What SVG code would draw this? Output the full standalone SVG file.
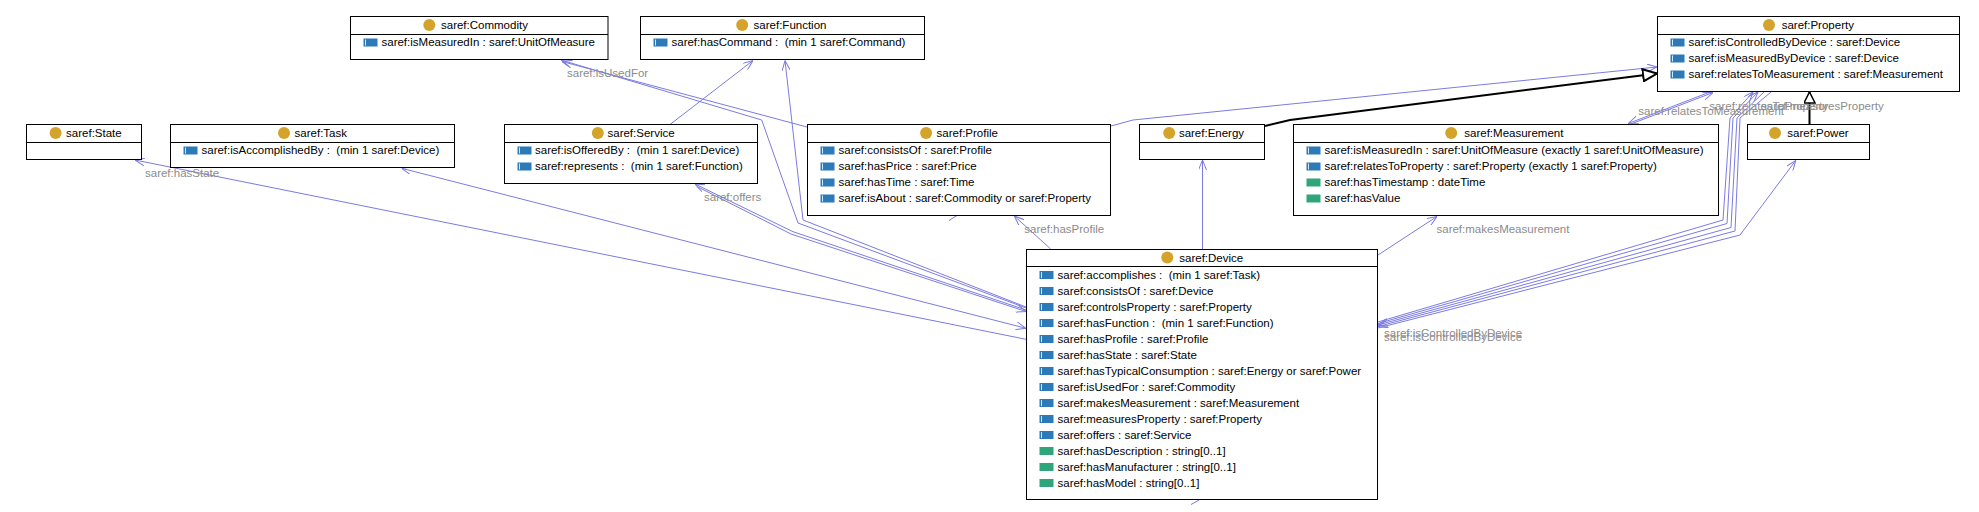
<svg xmlns="http://www.w3.org/2000/svg" xmlns:xlink="http://www.w3.org/1999/xlink" width="1979" height="512" viewBox="0 0 1979 512">
<style>
.box{fill:#fff;stroke:#000;stroke-width:1}
.t{font-family:"Liberation Sans",Arial,sans-serif;font-size:11.5px;fill:#000;white-space:pre}
.lbl{font-family:"Liberation Sans",Arial,sans-serif;font-size:11.5px;fill:#8c8c8c;white-space:pre}
.ic{fill:#d4a32a}
.c{fill:none;stroke:#7b7be3;stroke-width:1}
.g{fill:none;stroke:#000;stroke-width:2}
</style>
<defs>
<marker id="arr" viewBox="0 0 10 8" refX="10" refY="4" markerWidth="10" markerHeight="8" markerUnits="userSpaceOnUse" orient="auto-start-reverse"><path d="M0,0 L10,4 L0,8" fill="none" stroke="#7b7be3" stroke-width="1"/></marker>
<marker id="gen" viewBox="0 0 16 14" refX="15" refY="7" markerWidth="16" markerHeight="14" markerUnits="userSpaceOnUse" orient="auto"><path d="M1,1 L15,7 L1,13 Z" fill="#fff" stroke="#000" stroke-width="2"/></marker>
<marker id="gen2" viewBox="0 0 13 12" refX="12" refY="6" markerWidth="13" markerHeight="12" markerUnits="userSpaceOnUse" orient="auto"><path d="M1,0.5 L12,6 L1,11.5 Z" fill="#fff" stroke="#000" stroke-width="1.5"/></marker>
<g id="op"><rect width="14" height="8" fill="#2d7ab8"/><rect x="1.5" y="1" width="1" height="6" fill="#d8e8f4"/></g>
<g id="dp"><rect width="14" height="8" fill="#2ea67a"/></g>
</defs>
<rect width="1979" height="512" fill="#fff"/>

<g id="connectors">
<path class="c" d="M1026,339.3 L135,160" marker-end="url(#arr)"/>
<path class="c" d="M1026,328.3 L401.7,168.3" marker-start="url(#arr)" marker-end="url(#arr)"/>
<path class="c" d="M1026,308 L798,223 L761.7,120 L561,60" marker-end="url(#arr)"/>
<path class="c" d="M1026,307 L803,220 L785,60.5" marker-end="url(#arr)"/>
<path class="c" d="M1026,310 L793,231.7 L695,184" marker-end="url(#arr)"/>
<path class="c" d="M697,186.5 L791,234 L1026,311.5" marker-end="url(#arr)"/>
<path class="c" d="M670,124.5 L753,60.5" marker-end="url(#arr)"/>
<path class="c" d="M807,127 L562,61.5" marker-end="url(#arr)"/>
<path class="c" d="M1111,126 L1133,120 L1657,67" marker-end="url(#arr)"/>
<path class="c" d="M1050.7,249 L1014.3,216" marker-end="url(#arr)"/>
<path class="c" d="M1202.5,249 L1202.5,160" marker-end="url(#arr)"/>
<path class="c" d="M1378,255 L1437,216.5" marker-end="url(#arr)"/>
<path class="c" d="M1710,92 L1628.3,123.5" marker-end="url(#arr)"/>
<path class="c" d="M1631,124 L1713,92.5" marker-end="url(#arr)"/>
<path class="c" d="M1378,322 L1723,220 L1730,118 L1753,92" marker-end="url(#arr)"/>
<path class="c" d="M1378,323.5 L1727,223.5 L1733,118 L1758,92" marker-end="url(#arr)"/>
<path class="c" d="M1764,92 L1737,118 L1731,227.5 L1378,325" marker-end="url(#arr)"/>
<path class="c" d="M1771,92 L1740,118 L1735,231 L1378,326.5" marker-end="url(#arr)"/>
<path class="c" d="M1378,328 L1740,235 L1795.7,160.5" marker-end="url(#arr)"/>
<polyline class="c" points="949,212.5 957,215.5 949,220.5"/>
<polyline class="c" points="1191,495.5 1199,500 1191,504.5"/>
<path class="g" d="M1265,126 L1290,120 L1657,73.5" marker-end="url(#gen)"/>
<path class="g" d="M1809.5,124.5 L1809.5,92" marker-end="url(#gen2)"/>
<text class="lbl" x="567" y="77">saref:isUsedFor</text>
<text class="lbl" x="145" y="177">saref:hasState</text>
<text class="lbl" x="704" y="201">saref:offers</text>
<text class="lbl" x="1024.3" y="233">saref:hasProfile</text>
<text class="lbl" x="1436.5" y="233">saref:makesMeasurement</text>
<text class="lbl" x="1638.3" y="115">saref:relatesToMeasurement</text>
<text class="lbl" x="1709.3" y="109.5">saref:relatesToProperty</text>
<text class="lbl" x="1761" y="109.5">saref:measuresProperty</text>
<text class="lbl" x="1384" y="337">saref:isControlledByDevice</text>
<text class="lbl" x="1384" y="341">saref:isControlledByDevice</text>
</g>

<g id="commodity">
<rect class="box" x="350.5" y="16.5" width="257.5" height="43"/>
<line class="box" x1="350.5" y1="34.5" x2="608" y2="34.5"/>
<circle class="ic" cx="429.3" cy="25" r="6"/>
<text class="t" x="441" y="28.5">saref:Commodity</text>
<use xlink:href="#op" x="363.5" y="38.5"/>
<text class="t" x="381.5" y="46">saref:isMeasuredIn : saref:UnitOfMeasure</text>
</g>

<g id="function">
<rect class="box" x="640.5" y="16.5" width="284" height="43"/>
<line class="box" x1="640.5" y1="34.5" x2="924.5" y2="34.5"/>
<circle class="ic" cx="742.2" cy="25" r="6"/>
<text class="t" x="753.6" y="28.5">saref:Function</text>
<use xlink:href="#op" x="653.5" y="38.5"/>
<text class="t" x="671.5" y="46">saref:hasCommand :  (min 1 saref:Command)</text>
</g>

<g id="property">
<rect class="box" x="1657.5" y="16.5" width="302" height="75"/>
<line class="box" x1="1657.5" y1="34.5" x2="1959.5" y2="34.5"/>
<circle class="ic" cx="1769" cy="25" r="6"/>
<text class="t" x="1781.7" y="28.5">saref:Property</text>
<use xlink:href="#op" x="1670.5" y="38.5"/>
<text class="t" x="1688.5" y="46">saref:isControlledByDevice : saref:Device</text>
<use xlink:href="#op" x="1670.5" y="54.5"/>
<text class="t" x="1688.5" y="62">saref:isMeasuredByDevice : saref:Device</text>
<use xlink:href="#op" x="1670.5" y="70.5"/>
<text class="t" x="1688.5" y="78">saref:relatesToMeasurement : saref:Measurement</text>
</g>

<g id="state">
<rect class="box" x="26.5" y="124.5" width="115" height="35"/>
<line class="box" x1="26.5" y1="142.5" x2="141.5" y2="142.5"/>
<circle class="ic" cx="55.6" cy="133" r="6"/>
<text class="t" x="66.1" y="136.5">saref:State</text>
</g>

<g id="task">
<rect class="box" x="170.5" y="124.5" width="284" height="43"/>
<line class="box" x1="170.5" y1="142.5" x2="454.5" y2="142.5"/>
<circle class="ic" cx="284" cy="133" r="6"/>
<text class="t" x="294.6" y="136.5">saref:Task</text>
<use xlink:href="#op" x="183.5" y="146.5"/>
<text class="t" x="201.5" y="154">saref:isAccomplishedBy :  (min 1 saref:Device)</text>
</g>

<g id="service">
<rect class="box" x="504.5" y="124.5" width="253" height="59"/>
<line class="box" x1="504.5" y1="142.5" x2="757.5" y2="142.5"/>
<circle class="ic" cx="597.8" cy="133" r="6"/>
<text class="t" x="607.5" y="136.5">saref:Service</text>
<use xlink:href="#op" x="517.5" y="146.5"/>
<text class="t" x="535" y="154">saref:isOfferedBy :  (min 1 saref:Device)</text>
<use xlink:href="#op" x="517.5" y="162.5"/>
<text class="t" x="535" y="170">saref:represents :  (min 1 saref:Function)</text>
</g>

<g id="profile">
<rect class="box" x="807.5" y="124.5" width="303" height="91"/>
<line class="box" x1="807.5" y1="142.5" x2="1110.5" y2="142.5"/>
<circle class="ic" cx="926.1" cy="133" r="6"/>
<text class="t" x="936.6" y="136.5">saref:Profile</text>
<use xlink:href="#op" x="820.5" y="146.5"/>
<text class="t" x="838.5" y="154">saref:consistsOf : saref:Profile</text>
<use xlink:href="#op" x="820.5" y="162.5"/>
<text class="t" x="838.5" y="170">saref:hasPrice : saref:Price</text>
<use xlink:href="#op" x="820.5" y="178.5"/>
<text class="t" x="838.5" y="186">saref:hasTime : saref:Time</text>
<use xlink:href="#op" x="820.5" y="194.5"/>
<text class="t" x="838.5" y="202">saref:isAbout : saref:Commodity or saref:Property</text>
</g>

<g id="energy">
<rect class="box" x="1139.5" y="124.5" width="125" height="35"/>
<line class="box" x1="1139.5" y1="142.5" x2="1264.5" y2="142.5"/>
<circle class="ic" cx="1169.2" cy="133" r="6"/>
<text class="t" x="1178.9" y="136.5">saref:Energy</text>
</g>

<g id="measurement">
<rect class="box" x="1293.5" y="124.5" width="425" height="91"/>
<line class="box" x1="1293.5" y1="142.5" x2="1718.5" y2="142.5"/>
<circle class="ic" cx="1451.2" cy="133" r="6"/>
<text class="t" x="1464.3" y="136.5">saref:Measurement</text>
<use xlink:href="#op" x="1306.5" y="146.5"/>
<text class="t" x="1324.5" y="154">saref:isMeasuredIn : saref:UnitOfMeasure (exactly 1 saref:UnitOfMeasure)</text>
<use xlink:href="#op" x="1306.5" y="162.5"/>
<text class="t" x="1324.5" y="170">saref:relatesToProperty : saref:Property (exactly 1 saref:Property)</text>
<use xlink:href="#dp" x="1306.5" y="178.5"/>
<text class="t" x="1324.5" y="186">saref:hasTimestamp : dateTime</text>
<use xlink:href="#dp" x="1306.5" y="194.5"/>
<text class="t" x="1324.5" y="202">saref:hasValue</text>
</g>

<g id="power">
<rect class="box" x="1747.5" y="124.5" width="122" height="35"/>
<line class="box" x1="1747.5" y1="142.5" x2="1869.5" y2="142.5"/>
<circle class="ic" cx="1775" cy="133" r="6"/>
<text class="t" x="1787.3" y="136.5">saref:Power</text>
</g>

<g id="device">
<rect class="box" x="1026.5" y="249.5" width="351" height="250"/>
<line class="box" x1="1026.5" y1="266.5" x2="1377.5" y2="266.5"/>
<circle class="ic" cx="1167.3" cy="257.5" r="6"/>
<text class="t" x="1179.3" y="261.5">saref:Device</text>
<use xlink:href="#op" x="1039.5" y="271"/>
<text class="t" x="1057.5" y="279">saref:accomplishes :  (min 1 saref:Task)</text>
<use xlink:href="#op" x="1039.5" y="287"/>
<text class="t" x="1057.5" y="295">saref:consistsOf : saref:Device</text>
<use xlink:href="#op" x="1039.5" y="303"/>
<text class="t" x="1057.5" y="311">saref:controlsProperty : saref:Property</text>
<use xlink:href="#op" x="1039.5" y="319"/>
<text class="t" x="1057.5" y="327">saref:hasFunction :  (min 1 saref:Function)</text>
<use xlink:href="#op" x="1039.5" y="335"/>
<text class="t" x="1057.5" y="343">saref:hasProfile : saref:Profile</text>
<use xlink:href="#op" x="1039.5" y="351"/>
<text class="t" x="1057.5" y="359">saref:hasState : saref:State</text>
<use xlink:href="#op" x="1039.5" y="367"/>
<text class="t" x="1057.5" y="375">saref:hasTypicalConsumption : saref:Energy or saref:Power</text>
<use xlink:href="#op" x="1039.5" y="383"/>
<text class="t" x="1057.5" y="391">saref:isUsedFor : saref:Commodity</text>
<use xlink:href="#op" x="1039.5" y="399"/>
<text class="t" x="1057.5" y="407">saref:makesMeasurement : saref:Measurement</text>
<use xlink:href="#op" x="1039.5" y="415"/>
<text class="t" x="1057.5" y="423">saref:measuresProperty : saref:Property</text>
<use xlink:href="#op" x="1039.5" y="431"/>
<text class="t" x="1057.5" y="439">saref:offers : saref:Service</text>
<use xlink:href="#dp" x="1039.5" y="447"/>
<text class="t" x="1057.5" y="455">saref:hasDescription : string[0..1]</text>
<use xlink:href="#dp" x="1039.5" y="463"/>
<text class="t" x="1057.5" y="471">saref:hasManufacturer : string[0..1]</text>
<use xlink:href="#dp" x="1039.5" y="479"/>
<text class="t" x="1057.5" y="487">saref:hasModel : string[0..1]</text>
</g>
</svg>
